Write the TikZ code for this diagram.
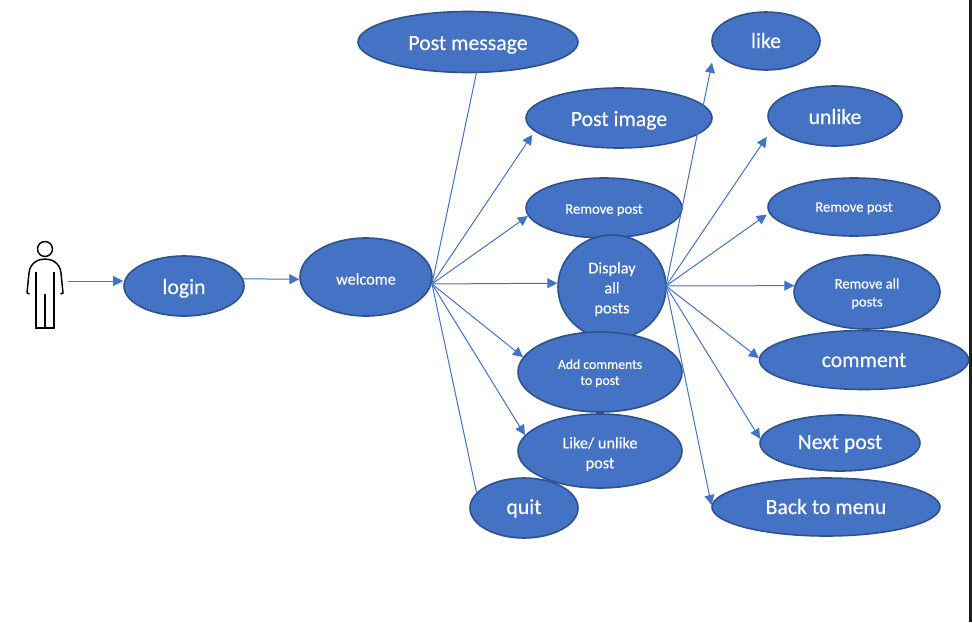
\documentclass[tikz,border=0pt]{standalone}
\usepackage{fontspec}
\setmainfont[FakeBold=0.25]{Carlito}
\usetikzlibrary{arrows.meta,shapes.geometric}

\definecolor{casefill}{HTML}{4472C4}
\definecolor{caseedge}{HTML}{2F528F}
\definecolor{stripdark}{HTML}{1E1E1E}

\newcommand\topgap[1]{\rule{0pt}{#1}}

\tikzset{
    usecase/.style 2 args={ellipse,draw=caseedge,fill=casefill,line width=1.2pt,text=white,
        align=center,inner sep=0pt,minimum width=#1*0.75pt,minimum height=#2*0.75pt},
    biglabel/.style={font=\fontsize{16.3}{18}\selectfont,text height=12pt,text depth=0pt},
    welcomelabel/.style={font=\fontsize{12.2}{15}\selectfont,text height=11.4pt,text depth=0pt},
    oneline/.style={font=\fontsize{11}{15}\selectfont,text height=8.6pt,text depth=0pt},
    midlabel/.style={font=\fontsize{12.2}{15}\selectfont},
    smalllabel/.style={font=\fontsize{10.9}{13.5}\selectfont},
    tinylabel/.style={font=\fontsize{10.3}{12}\selectfont},
    link/.style={draw=casefill,line width=0.75pt,-{Triangle[length=7.5pt,width=7.5pt]}},
    plainlink/.style={draw=casefill,line width=0.75pt},
    figure/.style={draw=black,line width=1.1pt}
}

\begin{document}
\begin{tikzpicture}[x=0.75pt,y=-0.75pt]
\useasboundingbox (0,0) rectangle (972,622);

\fill [stripdark] (969,0) rectangle (972,622);

% actor
\draw [figure] (45,249) circle [radius=5.6pt];
\draw [figure] (27,293) -- (29,273) .. controls (30,263) and (38,259) .. (45,259) .. controls (52,259) and (60,263) .. (61,273) -- (63,293) -- (60.5,294);
\draw [figure] (27,293) -- (29.5,294);
\draw [figure] (36,272) -- (36,328) -- (54,328) -- (54,272);
\draw [figure] (45,294) -- (45,328);
\coordinate (actorhand) at (68,281);

% left side
\node (login) [usecase={120}{60},biglabel] at (184,286) {login};
\node (welcome) [usecase={132}{78},welcomelabel] at (366,277) {welcome};
\coordinate (welcomehub) at (432,284);

% options of welcome
\node (postmessage) [usecase={220}{61},biglabel] at (468,42) {Post message};
\node (postimage) [usecase={186}{60},biglabel] at (619,118) {Post image};
\node (removepost) [usecase={156}{60},oneline] at (604,208) {Remove post};
\node (displayposts) [usecase={108}{104},midlabel] at (612,287) {\topgap{11.5pt}Display\\all\\posts};
\node (addcomments) [usecase={164}{80},tinylabel] at (600,372) {\topgap{9pt}Add comments\\to post};
\node (likeunlike) [usecase={164}{74},midlabel] at (600,451) {\topgap{13pt}Like/ unlike\\post};
\node (quit) [usecase={108}{60},biglabel,text height=9pt] at (524,508) {quit};

% options of display all posts
\node (like) [usecase={108}{58},biglabel,text height=10.5pt] at (766,41) {like};
\node (unlike) [usecase={134}{60},biglabel] at (835,116) {unlike};
\node (removepostb) [usecase={172}{58},oneline,text height=7.1pt] at (854,207) {Remove post};
\node (removeall) [usecase={146}{74},smalllabel] at (867,292) {\topgap{10pt}Remove all\\posts};
\node (comment) [usecase={209}{59},biglabel,text height=10.5pt] at (864,360) {comment};
\node (nextpost) [usecase={160}{56},biglabel,text height=9pt] at (840,443) {Next post};
\node (backmenu) [usecase={228}{58},biglabel,text height=10.5pt] at (826,507) {Back to menu};
\coordinate (displayhub) at (666,286);

\draw [link] (actorhand) -- (login.west |- actorhand);
\draw [link] (login.7) -- (welcome.182);

\draw [plainlink] (welcomehub) -- (postmessage.285);
\draw [plainlink] (welcomehub) -- (quit.162);
\foreach \target/\ang/\gap in {postimage/189/3,removepost/186/0,displayposts/176/0,addcomments/169/0,likeunlike/168/0}
{
    \draw [link,shorten >=\gap pt] (welcomehub) -- (\target.\ang);
}

\foreach \target/\ang/\gap in {like/191.5/9,unlike/191.4/8,removepostb/184/2,removeall/175/0,comment/179/0,nextpost/177/0,backmenu/179/0}
{
    \draw [link,shorten >=\gap pt] (displayhub) -- (\target.\ang);
}

\end{tikzpicture}
\end{document}
